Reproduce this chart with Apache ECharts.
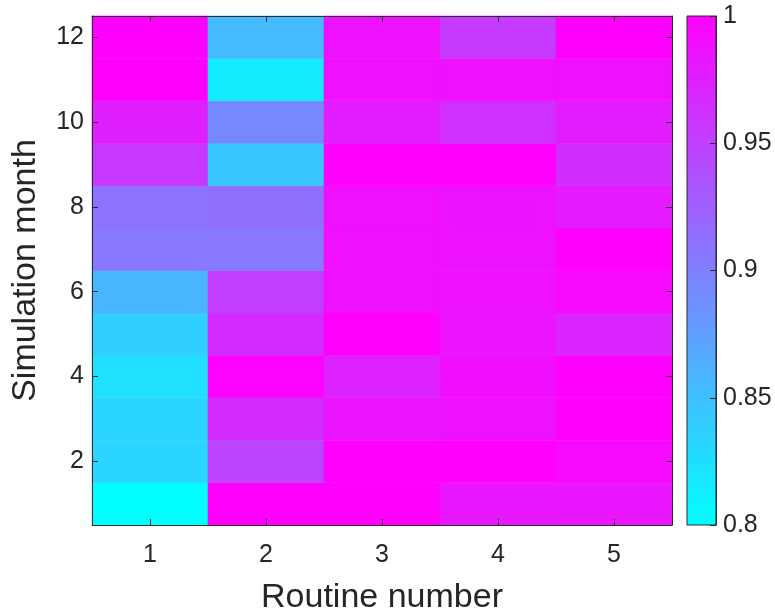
<!DOCTYPE html>
<html>
<head>
<meta charset="utf-8">
<script src="https://cdn.jsdelivr.net/npm/echarts@6/dist/echarts.min.js"></script>
<style>
  html, body { margin: 0; padding: 0; background: #fff; }
  #chart { width: 775px; height: 610px; }
</style>
</head>
<body>
<div id="chart"></div>
<script>
// Routine numbers (columns) and simulation months (rows)
const routines = [1, 2, 3, 4, 5];
const months = [1, 2, 3, 4, 5, 6, 7, 8, 9, 10, 11, 12];

// Score per routine, listed by month 1..12
const routine1 = [0.800, 0.833, 0.833, 0.824, 0.838, 0.858, 0.906, 0.911, 0.957, 0.976, 1.000, 1.000];
const routine2 = [1.000, 0.947, 0.966, 0.998, 0.967, 0.951, 0.907, 0.913, 0.844, 0.893, 0.816, 0.854];
const routine3 = [1.000, 1.000, 0.985, 0.973, 1.000, 0.988, 0.988, 0.988, 1.000, 0.978, 0.988, 0.987];
const routine4 = [0.982, 1.000, 0.987, 0.989, 0.985, 0.987, 0.987, 0.986, 1.000, 0.962, 0.988, 0.955];
const routine5 = [0.983, 0.994, 1.000, 1.000, 0.971, 0.994, 1.000, 0.979, 0.965, 0.978, 0.988, 1.000];

// Tick labels
const xTicks = [1, 2, 3, 4, 5];
const yTicks = [2, 4, 6, 8, 10, 12];
const cbarTicks = [0.8, 0.85, 0.9, 0.95, 1];

const scoreMin = 0.8, scoreMax = 1;
const coolColors = ['#00FFFF', '#FF00FF'];

const columns = [routine1, routine2, routine3, routine4, routine5];
const cells = [];
columns.forEach((col, ci) => {
  col.forEach((v, mi) => cells.push([routines[ci], months[mi], v]));
});

const textColor = '#262626';
const frameColor = '#2b2b2b';
const fontFamily = '"Liberation Sans", Arial, Helvetica, sans-serif';
const tickFont = 25;

const chart = echarts.init(document.getElementById('chart'), null, { renderer: 'canvas' });

function frameAxis(extra) {
  return Object.assign({
    z: 10,
    axisLine: { show: true, onZero: false, lineStyle: { color: frameColor, width: 1 } },
    splitLine: { show: false }
  }, extra);
}

chart.setOption({
  animation: false,
  backgroundColor: '#fff',
  textStyle: { fontFamily: fontFamily, color: textColor },
  grid: [
    { left: 92, top: 16, width: 580, height: 509, outerBoundsMode: 'none', containLabel: false },
    { left: 687, top: 16, width: 29, height: 509, outerBoundsMode: 'none', containLabel: false }
  ],
  xAxis: [
    frameAxis({
      type: 'value', gridIndex: 0, position: 'bottom',
      min: routines[0] - 0.5, max: routines[routines.length - 1] + 0.5,
      name: 'Routine number', nameLocation: 'middle', nameGap: 56,
      nameTextStyle: { fontSize: 34, color: textColor, fontFamily: fontFamily },
      axisTick: { show: true, inside: true, length: 6, customValues: xTicks, lineStyle: { color: frameColor } },
      axisLabel: { customValues: xTicks, fontSize: tickFont, color: textColor, margin: 18, fontFamily: fontFamily }
    }),
    frameAxis({
      type: 'value', gridIndex: 0, position: 'top',
      min: routines[0] - 0.5, max: routines[routines.length - 1] + 0.5,
      axisTick: { show: true, inside: true, length: 6, customValues: xTicks, lineStyle: { color: frameColor } },
      axisLabel: { show: false }
    }),
    {
      type: 'value', gridIndex: 1, min: 0, max: 1, show: false
    }
  ],
  yAxis: [
    frameAxis({
      type: 'value', gridIndex: 0, position: 'left',
      min: months[0] - 0.5, max: months[months.length - 1] + 0.5,
      name: 'Simulation month', nameLocation: 'middle', nameGap: 49,
      nameTextStyle: { fontSize: 34, color: textColor, fontFamily: fontFamily },
      axisTick: { show: true, inside: true, length: 6, customValues: yTicks, lineStyle: { color: frameColor } },
      axisLabel: { customValues: yTicks, fontSize: tickFont, color: textColor, margin: 8, fontFamily: fontFamily }
    }),
    frameAxis({
      type: 'value', gridIndex: 0, position: 'right',
      min: months[0] - 0.5, max: months[months.length - 1] + 0.5,
      axisTick: { show: true, inside: true, length: 6, customValues: yTicks, lineStyle: { color: frameColor } },
      axisLabel: { show: false }
    }),
    frameAxis({
      type: 'value', gridIndex: 1, position: 'right',
      min: scoreMin, max: scoreMax,
      axisTick: { show: true, inside: true, length: 6, customValues: cbarTicks, lineStyle: { color: frameColor } },
      axisLabel: {
        customValues: cbarTicks, fontSize: tickFont, color: textColor, margin: 7, fontFamily: fontFamily,
        formatter: v => String(+v.toFixed(2))
      }
    })
  ],
  visualMap: {
    show: false, type: 'continuous', seriesIndex: 0, dimension: 2,
    min: scoreMin, max: scoreMax, inRange: { color: coolColors }
  },
  series: [
    {
      // heatmap cells, one rectangle per (routine, month)
      type: 'custom',
      xAxisIndex: 0, yAxisIndex: 0,
      data: cells,
      encode: { x: 0, y: 1 },
      renderItem: function (params, api) {
        const x = api.value(0), y = api.value(1);
        const p0 = api.coord([x - 0.5, y + 0.5]);
        const p1 = api.coord([x + 0.5, y - 0.5]);
        const c = api.visual('color');
        return {
          type: 'rect',
          shape: { x: p0[0], y: p0[1], width: p1[0] - p0[0], height: p1[1] - p0[1] },
          style: { fill: c, stroke: c, lineWidth: 0.6 }
        };
      },
      z: 1
    },
    {
      // colour bar
      type: 'custom',
      xAxisIndex: 2, yAxisIndex: 2,
      data: [[0, scoreMin, 1, scoreMax]],
      renderItem: function (params, api) {
        const p0 = api.coord([api.value(0), api.value(3)]);
        const p1 = api.coord([api.value(2), api.value(1)]);
        return {
          type: 'rect',
          shape: { x: p0[0], y: p0[1], width: p1[0] - p0[0], height: p1[1] - p0[1] },
          style: {
            fill: new echarts.graphic.LinearGradient(0, 1, 0, 0, [
              { offset: 0, color: coolColors[0] },
              { offset: 1, color: coolColors[1] }
            ]),
            stroke: frameColor, lineWidth: 1
          }
        };
      },
      z: 1
    }
  ]
});
</script>
</body>
</html>
